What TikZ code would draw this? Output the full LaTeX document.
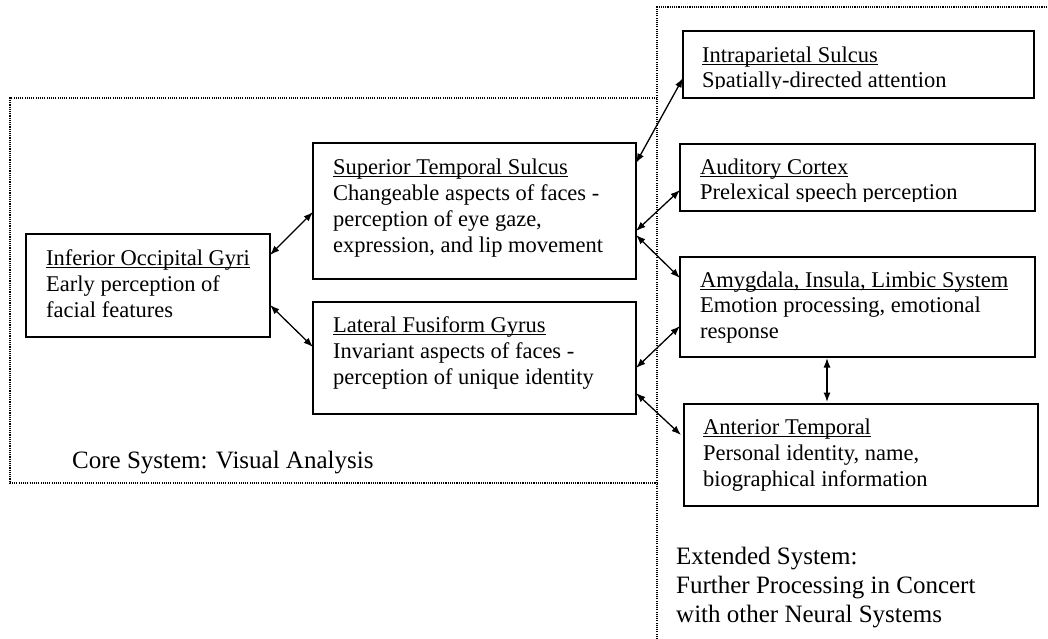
\documentclass[tikz,border=0pt]{standalone}
\usepackage{fontspec}
\setmainfont{Liberation Serif}
\usetikzlibrary{arrows.meta,calc}
\newcommand\myul[1]{\leavevmode\setbox0\hbox{#1}\rlap{\rule[-2.8pt]{\wd0}{1.2pt}}\box0}
\begin{document}
\begin{tikzpicture}[x=1pt,y=-1pt,
  box/.style={draw,line width=1.8pt,inner sep=0pt,outer sep=0pt,anchor=north west},
  txt/.style={inner sep=0pt,anchor=base west,font=\fontsize{22.5}{26.2}\selectfont},
  lbl/.style={inner sep=0pt,anchor=base west,font=\fontsize{25}{29}\selectfont},
  dblarrow/.style={line width=1.3pt,{Latex[length=9.5pt,width=7pt]}-{Latex[length=9.5pt,width=7pt]}},
  dotbox/.style={line width=1.3pt,dash pattern=on 1.1pt off 1.1pt}]
\useasboundingbox (0,0) rectangle (1048,638);
% system frames
\draw[dotbox] (657,98) -- (10,98) -- (10,483) -- (657,483);
\draw[dotbox] (657,650) -- (657,7) -- (1060,7);
% boxes
\node[box,minimum width=244pt,minimum height=103pt] (iog) at (26,234) {};
\node[box,minimum width=323pt,minimum height=136pt] (sts) at (313,143) {};
\node[box,minimum width=323pt,minimum height=112pt] (lfg) at (313,302) {};
\node[box,minimum width=351pt,minimum height=67pt] (ips) at (683,31) {};
\node[box,minimum width=355pt,minimum height=67pt] (aud) at (680,144) {};
\node[box,minimum width=355pt,minimum height=100pt] (amy) at (680,257) {};
\node[box,minimum width=354pt,minimum height=102pt] (ant) at (684,404) {};
% texts
\node[txt] (iogT) at (46,265) {\parbox[t]{400pt}{\myul{Inferior Occipital Gyri}\\Early perception of\\facial features}};
\node[txt] (stsT) at (333,174) {\parbox[t]{400pt}{\myul{Superior Temporal Sulcus}\\Changeable aspects of faces -\\perception of eye gaze,\\expression, and lip movement}};
\node[txt] (lfgT) at (333,332) {\parbox[t]{400pt}{\myul{Lateral Fusiform Gyrus}\\Invariant aspects of faces -\\perception of unique identity}};
\begin{scope}
\clip (683,31) rectangle (1034,88.5);
\node[txt] (ipsT) at (702,62) {\parbox[t]{400pt}{\fontsize{22.5}{25}\selectfont\myul{Intraparietal Sulcus}\\Spatially-directed attention}};
\end{scope}
\begin{scope}
\clip (680,144) rectangle (1035,201);
\node[txt] (audT) at (700,174) {\parbox[t]{400pt}{\fontsize{22.5}{25}\selectfont\myul{Auditory Cortex}\\Prelexical speech perception}};
\end{scope}
\node[txt] (amyT) at (700,287) {\parbox[t]{400pt}{\fontsize{22.5}{25.7}\selectfont\myul{Amygdala, Insula, Limbic System}\\Emotion processing, emotional\\response}};
\node[txt] (antT) at (703,434) {\parbox[t]{400pt}{\myul{Anterior Temporal}\\Personal identity, name,\\biographical information}};
\node[lbl] (coreT) at (72,468) {Core System: Visual Analysis};
\node[lbl] (extT) at (676,564) {\parbox[t]{400pt}{Extended System:\\Further Processing in Concert\\with other Neural Systems}};
% connectors
\draw[dblarrow] ($(iog.north east)+(0,21)$) -- ($(sts.north west)+(0,69)$);
\draw[dblarrow] ($(iog.north east)+(0,71)$) -- ($(lfg.north west)+(0,45)$);
\draw[dblarrow] ($(sts.north east)+(0,20)$) -- ($(ips.north west)+(0,47)$);
\draw[dblarrow] ($(sts.north east)+(0,88)$) -- ($(aud.north west)+(0,46)$);
\draw[dblarrow] ($(sts.north east)+(0,92)$) -- ($(amy.north west)+(0,21)$);
\draw[dblarrow] ($(lfg.north east)+(0,66)$) -- ($(amy.north west)+(0,69)$);
\draw[dblarrow] ($(lfg.north east)+(0,91)$) -- ($(ant.north west)+(-3,31)$);
\draw[dblarrow] ($(amy.south west)+(147,1)$) -- ($(ant.north west)+(143,-2)$);
\end{tikzpicture}
\end{document}
